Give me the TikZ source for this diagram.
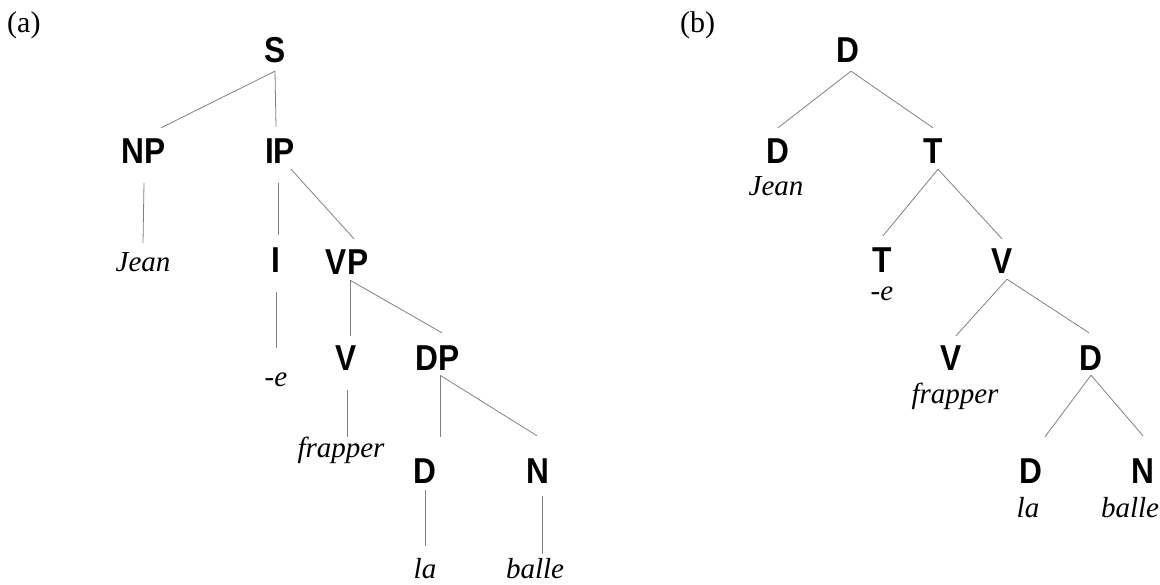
\documentclass[tikz,border=0pt]{standalone}
\usepackage{fontspec}
\setmainfont{Liberation Serif}
\newfontfamily\catfont{Liberation Sans}[FakeStretch=0.88]
\tikzset{
 cat/.style={font=\catfont\bfseries\fontsize{36}{40}\selectfont, inner sep=0pt, anchor=base, text height=26pt, text depth=0pt},
 word/.style={font=\itshape\fontsize{29}{34}\selectfont, inner sep=0pt, anchor=base, text height=20pt, text depth=6pt},
 tag/.style={font=\fontsize{30}{34}\selectfont, inner sep=0pt, anchor=base west},
 edge/.style={draw=gray, line width=0.8pt}
}
\begin{document}
\begin{tikzpicture}[x=1pt,y=-1pt]
\useasboundingbox (0,0) rectangle (1160,585);
% (a) phrase structure
\node[tag] (taga) at (7,33) {(a)};
\node[cat] (S) at (275,63) {S};
\node[cat] (NP) at (144,164) {NP};
\node[cat] (IP) at (280,164) {IP};
\node[word] (Jean) at (143,272) {Jean};
\node[cat] (I) at (276,273) {I};
\node[cat] (VP) at (347,275) {VP};
\node[word] (infl) at (276,387) {-e};
\node[cat] (V) at (346,371) {V};
\node[cat] (DP) at (438,371) {DP};
\node[word] (frapper) at (341,457) {frapper};
\node[cat] (D) at (425,483) {D};
\node[cat] (N) at (538,483) {N};
\node[word] (la) at (425,578) {la};
\node[word] (balle) at (535,578) {balle};

\draw[edge] ([yshift=-8pt]S.south) -- ([xshift=17pt,yshift=10pt]NP.north);
\draw[edge] ([yshift=-8pt]S.south) -- ([xshift=-4pt,yshift=11pt]IP.north);
\draw[edge] ([yshift=-19pt]NP.south) -- ([yshift=9pt]Jean.north);
\draw[edge] ([xshift=-2pt,yshift=-19pt]IP.south) -- ([xshift=2pt,yshift=12pt]I.north);
\draw[edge] ([xshift=11pt,yshift=-5pt]IP.south) -- ([xshift=7pt,yshift=10pt]VP.north);
\draw[edge] ([yshift=-19pt]I.south) -- ([yshift=19pt]infl.north);
\draw[edge] ([xshift=3pt,yshift=-5pt]VP.south) -- ([xshift=4pt,yshift=9pt]V.north);
\draw[edge] ([xshift=3pt,yshift=-5pt]VP.south) -- ([xshift=4pt,yshift=12pt]DP.north);
\draw[edge] ([xshift=1pt,yshift=-19pt]V.south) -- ([xshift=6pt]frapper.north);
\draw[edge] ([xshift=2pt,yshift=-4pt]DP.south) -- ([xshift=15pt,yshift=20pt]D.north);
\draw[edge] ([xshift=2pt,yshift=-4pt]DP.south) -- ([xshift=-1pt,yshift=21pt]N.north);
\draw[edge] ([yshift=-7pt]D.south) -- ([yshift=12pt]la.north);
\draw[edge] ([xshift=4pt,yshift=-13pt]N.south) -- ([xshift=7pt,yshift=4pt]balle.north);

% (b) bare categories
\node[tag] (tagb) at (680,33) {(b)};
\node[cat] (bD) at (848,63) {D};
\node[cat] (bDj) at (778,164) {D};
\node[word] (bJean) at (776,196) {Jean};
\node[cat] (bT) at (933,164) {T};
\node[cat] (bTe) at (882,273) {T};
\node[word] (be) at (882,301) {-e};
\node[cat] (bV) at (1002,274) {V};
\node[cat] (bVf) at (951,371) {V};
\node[word] (bfrapper) at (955,403) {frapper};
\node[cat] (bDp) at (1091,371) {D};
\node[cat] (bDl) at (1031,483) {D};
\node[word] (bla) at (1028,517) {la};
\node[cat] (bN) at (1143,483) {N};
\node[word] (bballe) at (1130,517) {balle};

\draw[edge] ([xshift=3pt,yshift=-8pt]bD.south) -- ([yshift=10pt]bDj.north);
\draw[edge] ([xshift=3pt,yshift=-8pt]bD.south) -- ([yshift=10pt]bT.north);
\draw[edge] ([xshift=5pt,yshift=-5pt]bT.south) -- ([xshift=1pt,yshift=11pt]bTe.north);
\draw[edge] ([xshift=5pt,yshift=-5pt]bT.south) -- ([yshift=9pt]bV.north);
\draw[edge] ([xshift=5pt,yshift=-5pt]bV.south) -- ([xshift=5pt,yshift=9pt]bVf.north);
\draw[edge] ([xshift=5pt,yshift=-5pt]bV.south) -- ([xshift=-2pt,yshift=12pt]bDp.north);
\draw[edge] ([yshift=-4pt]bDp.south) -- ([xshift=14pt,yshift=20pt]bDl.north);
\draw[edge] ([yshift=-4pt]bDp.south) -- ([yshift=21pt]bN.north);
\end{tikzpicture}
\end{document}
